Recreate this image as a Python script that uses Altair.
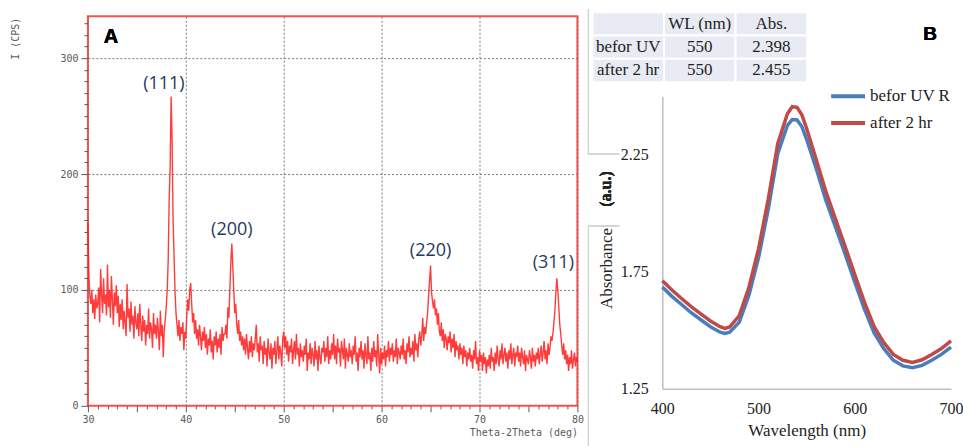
import altair as alt
import pandas as pd

# ---------------- Panel A : XRD pattern (intensity every 0.1 deg, 30.0 .. 80.0) ----------------
xrd_intensity = [
    158, 112, 95, 88, 100, 80, 92, 75, 96, 84,      # 30
    88, 102, 72, 118, 95, 80, 110, 88, 96, 78,      # 31
    122, 85, 100, 76, 112, 92, 70, 98, 86, 104,     # 32
    80, 95, 68, 88, 74, 92, 66, 82, 72, 60,         # 33
    105, 76, 84, 64, 90, 70, 78, 58, 86, 72,        # 34
    66, 80, 60, 88, 70, 56, 78, 64, 74, 52,         # 35
    70, 62, 84, 58, 72, 66, 50, 80, 62, 70,         # 36
    58, 76, 64, 48, 82, 60, 70, 42, 66, 74,         # 37
    85, 100, 125, 178, 205, 267, 230, 160, 130, 98, # 38
    80, 70, 60, 74, 56, 68, 62, 72, 48, 64,         # 39
    58, 78, 92, 82, 100, 106, 88, 72, 80, 62,       # 40
    74, 58, 66, 52, 70, 60, 48, 64, 56, 68,         # 41
    50, 62, 44, 58, 52, 66, 46, 56, 40, 60,         # 42
    52, 64, 46, 58, 50, 62, 44, 68, 56, 62,         # 43
    62, 70, 58, 85, 76, 100, 125, 140, 120, 100,    # 44
    80, 88, 70, 62, 74, 56, 64, 52, 60, 48,         # 45
    58, 44, 62, 50, 40, 56, 46, 60, 42, 54,         # 46
    48, 58, 70, 46, 54, 38, 60, 48, 52, 36,         # 47
    56, 44, 50, 34, 58, 46, 40, 54, 32, 50,         # 48
    44, 56, 36, 48, 60, 40, 52, 46, 34, 58,         # 49
    64, 50, 60, 44, 56, 38, 52, 46, 58, 36,         # 50
    48, 56, 40, 62, 44, 50, 34, 54, 42, 48,         # 51
    38, 52, 44, 58, 30, 46, 40, 54, 36, 50,         # 52
    44, 34, 56, 40, 48, 30, 52, 42, 36, 50,         # 53
    46, 56, 38, 50, 42, 60, 36, 48, 40, 54,         # 54
    44, 62, 40, 52, 36, 58, 46, 50, 34, 56,         # 55
    48, 40, 58, 32, 50, 44, 38, 54, 42, 48,         # 56
    36, 52, 44, 60, 38, 46, 30, 50, 42, 56,         # 57
    40, 48, 32, 54, 44, 36, 60, 40, 46, 30,         # 58
    50, 38, 56, 42, 48, 34, 62, 44, 28, 50,         # 59
    36, 46, 40, 52, 34, 48, 42, 56, 38, 50,         # 60
    44, 54, 38, 48, 42, 58, 36, 50, 46, 40,         # 61
    52, 44, 58, 40, 48, 36, 54, 46, 60, 42,         # 62
    50, 44, 56, 38, 62, 48, 54, 42, 58, 64,         # 63
    52, 60, 76, 56, 68, 62, 72, 80, 95, 108,        # 64
    121, 98, 90, 84, 92, 78, 84, 70, 80, 64,        # 65
    60, 72, 56, 66, 50, 62, 58, 48, 60, 54,         # 66
    64, 46, 58, 50, 62, 42, 56, 48, 52, 40,         # 67
    54, 44, 50, 36, 52, 42, 48, 34, 46, 40,         # 68
    50, 38, 44, 32, 48, 40, 56, 36, 42, 30,         # 69
    48, 38, 44, 30, 46, 36, 42, 28, 40, 34,         # 70
    44, 32, 50, 38, 42, 30, 46, 36, 52, 40,         # 71
    34, 48, 40, 54, 36, 44, 50, 38, 46, 32,         # 72
    48, 40, 54, 36, 44, 50, 34, 46, 42, 52,         # 73
    38, 46, 34, 50, 42, 36, 48, 30, 44, 40,         # 74
    36, 48, 42, 32, 50, 38, 44, 34, 46, 40,         # 75
    50, 36, 44, 52, 38, 46, 56, 40, 48, 36,         # 76
    54, 44, 50, 60, 56, 62, 72, 82, 98, 110,        # 77
    100, 85, 70, 62, 52, 44, 54, 40, 48, 36,        # 78
    44, 30, 42, 36, 48, 32, 40, 46, 34, 42,         # 79
    38,                                             # 80
]
xrd_two_theta = [round(30 + i * 0.1, 1) for i in range(len(xrd_intensity))]

peak_labels = ["(111)", "(200)", "(220)", "(311)"]
peak_label_two_theta = [37.76, 44.7, 65.0, 77.55]
peak_label_intensity = [278, 152, 134, 123]

# ---------------- Panel B : UV-Vis spectra ----------------
wavelength = [400, 410, 420, 430, 440, 450, 460, 465, 470, 480, 490, 500, 510, 520, 530, 535,
              540, 545, 550, 560, 570, 580, 590, 600, 610, 620, 630, 640, 650, 660, 670, 680, 690, 700]
abs_before = [1.685, 1.645, 1.610, 1.575, 1.545, 1.515, 1.492, 1.487, 1.492, 1.535, 1.650, 1.810,
              2.015, 2.255, 2.375, 2.400, 2.398, 2.370, 2.315, 2.190, 2.055, 1.940, 1.825, 1.705,
              1.590, 1.490, 1.422, 1.372, 1.348, 1.340, 1.350, 1.372, 1.397, 1.428]
abs_after = [1.712, 1.672, 1.636, 1.601, 1.570, 1.540, 1.515, 1.508, 1.514, 1.563, 1.684, 1.848,
             2.058, 2.298, 2.425, 2.455, 2.452, 2.420, 2.362, 2.228, 2.092, 1.975, 1.858, 1.738,
             1.620, 1.517, 1.448, 1.397, 1.372, 1.363, 1.374, 1.397, 1.422, 1.455]
series_names = ["befor UV R", "after 2 hr"]
series_colors = ["#4a7ebb", "#be4b48"]

table_headers = ["", "WL (nm)", "Abs."]
table_row_names = ["befor UV", "after 2 hr"]
table_wl = ["550", "550"]
table_abs = ["2.398", "2.455"]

# ---------------- build panel A ----------------
gray = "#5a5a5a"
mono = "DejaVu Sans Mono"
serif = "Liberation Serif"

df_xrd = pd.DataFrame({"two_theta": xrd_two_theta, "intensity": xrd_intensity})
df_peaks = pd.DataFrame({"two_theta": peak_label_two_theta, "intensity": peak_label_intensity,
                         "label": peak_labels})

xA = alt.X(
    "two_theta:Q",
    scale=alt.Scale(domain=[30, 80], nice=False, zero=False),
    axis=alt.Axis(
        values=list(range(30, 81)), tickCount=200, format="d",
        labelExpr="datum.value % 10 == 0 ? datum.label : ''",
        labelFont=mono, labelFontSize=10, labelColor=gray, labelPadding=3,
        labelOverlap=False, labelFlush=False,
        tickColor=gray,
        tickSize={"condition": {"test": "datum.value % 5 == 0", "value": 6}, "value": 3},
        domain=False,
        grid=True, gridColor="#777777", gridDash=[2, 2],
        gridOpacity={"condition": {"test": "datum.value % 10 == 0", "value": 1}, "value": 0},
        title="Theta-2Theta (deg)", titleFont=mono, titleFontSize=10, titleFontWeight="normal",
        titleColor=gray, titleAlign="right", titleAnchor="end", titleX=490, titleY=27,
        titleBaseline="middle",
    ),
)
yA = alt.Y(
    "intensity:Q",
    scale=alt.Scale(domain=[0, 336.2], nice=False, zero=False),
    axis=alt.Axis(
        values=list(range(0, 331, 10)), tickCount=200, format="d",
        labelExpr="datum.value % 100 == 0 ? datum.label : ''",
        labelFont=mono, labelFontSize=10, labelColor=gray, labelPadding=3, labelOverlap=False,
        tickColor=gray,
        tickSize={"condition": {"test": "datum.value % 100 == 0", "value": 7}, "value": 4},
        domain=False,
        grid=True, gridColor="#777777", gridDash=[2, 2],
        gridOpacity={"condition": {"test": "datum.value % 100 == 0 && datum.value > 0", "value": 1},
                     "value": 0},
        title="I (CPS)", titleFont=mono, titleFontSize=10, titleFontWeight="normal",
        titleColor=gray, titleAngle=270, titleX=-72, titleY=22, titleAlign="center",
        titleBaseline="middle",
    ),
)

xrd_line = alt.Chart(df_xrd).mark_line(color="#ff1a1a", strokeWidth=1.4, opacity=0.85).encode(x=xA, y=yA)
peak_text = alt.Chart(df_peaks).mark_text(font="Open Sans", fontSize=18, color="#263a5c").encode(
    x="two_theta:Q", y="intensity:Q", text="label:N")
label_A = alt.Chart(df_peaks).mark_text(text="A", font="Liberation Sans", fontSize=20,
                                        fontWeight="bold", color="black").encode(
    x=alt.value(23), y=alt.value(21))
anchor = alt.Chart(df_peaks).mark_rule(strokeOpacity=0).encode(
    x=alt.value(-87), y=alt.value(-15), y2=alt.value(-13))

panel_A = alt.layer(xrd_line, peak_text, label_A, anchor).properties(
    width=490, height=390,
    view=alt.ViewBackground(stroke="#ff4d4d", strokeWidth=2, fill="white"),
)

# ---------------- build panel B ----------------
df_uv = pd.concat([
    pd.DataFrame({"wavelength": wavelength, "absorbance": abs_before, "series": series_names[0]}),
    pd.DataFrame({"wavelength": wavelength, "absorbance": abs_after, "series": series_names[1]}),
])

uv_lines = alt.Chart(df_uv).mark_line(strokeWidth=3.5).encode(
    x=alt.X("wavelength:Q", scale=alt.Scale(domain=[400, 700], nice=False, zero=False),
            axis=alt.Axis(values=[400, 500, 600, 700], ticks=False, grid=False,
                          domainColor="#bfbfbf", domainWidth=1.5, labelFlush=False,
                          labelFont=serif, labelFontSize=16, labelColor="#222222", labelPadding=12,
                          title="Wavelength (nm)", titleFont=serif, titleFontSize=17,
                          titleFontWeight="normal", titleColor="#222222", titlePadding=6)),
    y=alt.Y("absorbance:Q", scale=alt.Scale(domain=[1.25, 2.5], range=[373, 80], nice=False, zero=False),
            axis=alt.Axis(values=[1.25, 1.75, 2.25], format=".2f", ticks=False, grid=False,
                          domainColor="#bfbfbf", domainWidth=1.5,
                          labelFont=serif, labelFontSize=16, labelColor="#222222", labelPadding=14,
                          title="Absorbance", titleFont=serif, titleFontSize=17,
                          titleFontWeight="normal", titleColor="#222222", titleAngle=270,
                          titleX=-56, titleY=252, titleAlign="center", titleBaseline="middle")),
    color=alt.Color("series:N", scale=alt.Scale(domain=series_names, range=series_colors),
                    legend=alt.Legend(orient="none", legendX=742, legendY=61, title=None,
                                      symbolType="stroke", symbolStrokeWidth=4, symbolSize=1156,
                                      labelFont=serif, labelFontSize=17, labelColor="#222222",
                                      rowPadding=-4, labelOffset=3, padding=0)),
)

table_records = []
for j, h in enumerate(table_headers):
    table_records.append({"row": "hdr", "col": str(j), "text": h})
for i, name in enumerate(table_row_names):
    for j, val in enumerate([name, table_wl[i], table_abs[i]]):
        table_records.append({"row": "r" + str(i), "col": str(j), "text": val})
df_table = pd.DataFrame(table_records)
tx = alt.X("col:N", scale=alt.Scale(domain=["0", "1", "2"], range=[-70, 145],
                                    paddingInner=0, paddingOuter=0), axis=None)
ty = alt.Y("row:N", scale=alt.Scale(domain=["hdr", "r0", "r1"], range=[-4, 66],
                                    paddingInner=0, paddingOuter=0), axis=None)
table_cells = alt.Chart(df_table).mark_rect(fill="#e8ebf3", stroke="white", strokeWidth=2).encode(x=tx, y=ty)
table_text = alt.Chart(df_table).mark_text(font=serif, fontSize=17, color="#222222").encode(
    x=tx, y=ty, text="text:N")

label_B = alt.Chart(df_peaks).mark_text(text="B", font="Liberation Sans", fontSize=19,
                                        fontWeight="bold", color="black").encode(
    x=alt.value(268), y=alt.value(18))
label_au = alt.Chart(df_peaks).mark_text(text="(a.u.)", font=serif, fontSize=16, fontWeight="bold",
                                         angle=270, color="#222222").encode(
    x=alt.value(-56), y=alt.value(173))

frame_color = "#d4d4d4"
deco1 = alt.Chart(df_peaks).mark_rule(color=frame_color).encode(
    x=alt.value(-74), y=alt.value(-7), y2=alt.value(138))
deco2 = alt.Chart(df_peaks).mark_rule(color=frame_color).encode(
    x=alt.value(-74), x2=alt.value(-43), y=alt.value(138))
deco3 = alt.Chart(df_peaks).mark_rule(color=frame_color).encode(
    x=alt.value(-74), x2=alt.value(-43), y=alt.value(210))
deco4 = alt.Chart(df_peaks).mark_rule(color=frame_color).encode(
    x=alt.value(-74), y=alt.value(210), y2=alt.value(431))

panel_B = alt.layer(deco1, deco2, deco3, deco4, table_cells, table_text, uv_lines,
                    label_B, label_au).resolve_scale(
    x="independent", y="independent").properties(
    width=289, height=373, view=alt.ViewBackground(stroke=None))

chart = alt.hconcat(panel_A, panel_B, spacing=85, bounds="flush").properties(
    padding={"left": 0, "top": 0, "right": 0, "bottom": 0},
    background="white",
).configure_view(stroke=None)

chart.save("out.html", embed_options={"renderer": "svg", "actions": False})
